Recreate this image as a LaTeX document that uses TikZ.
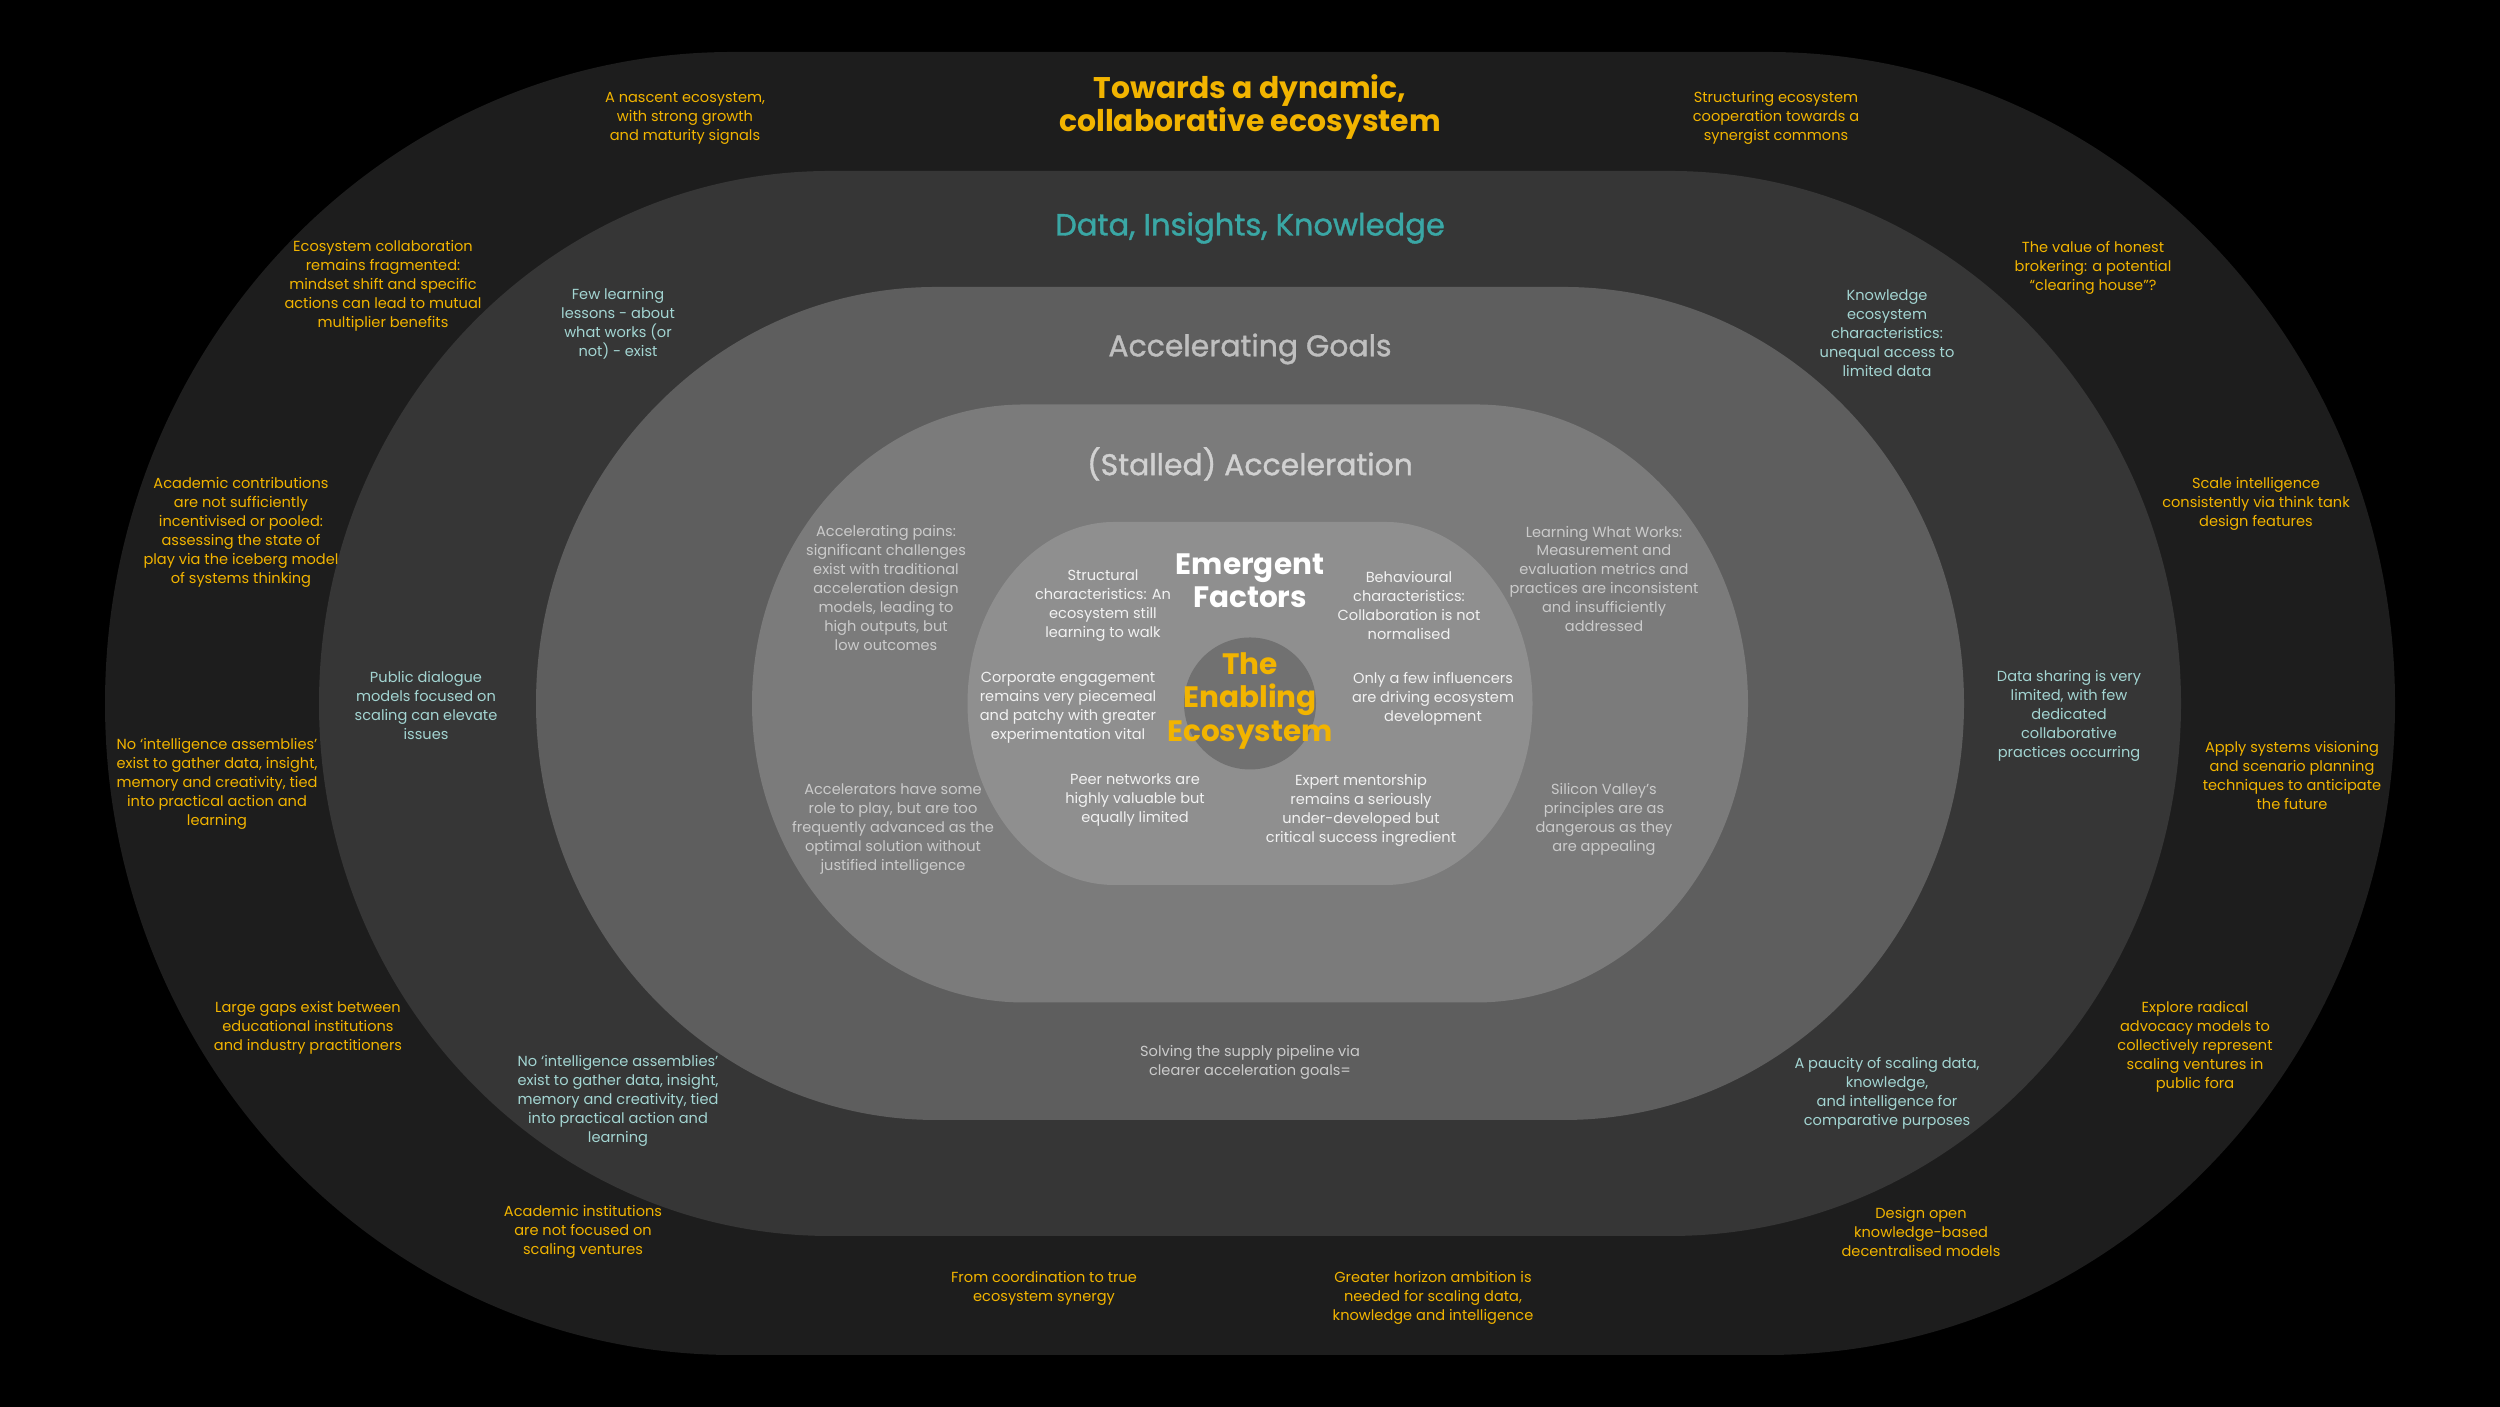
\documentclass[tikz,border=0pt]{standalone}
\usepackage{fontspec}
\setmainfont{Poppins}
\newfontfamily\mediumfont[FakeBold=1.2]{Poppins}

\definecolor{gold}{HTML}{F2B400}
\definecolor{teal}{HTML}{3AA7A5}
\definecolor{paleteal}{HTML}{A3D5D2}
\definecolor{mist}{HTML}{CBCBCB}
\definecolor{ringA}{HTML}{1D1D1D}
\definecolor{ringB}{HTML}{363636}
\definecolor{ringC}{HTML}{5E5E5E}
\definecolor{ringD}{HTML}{7B7B7B}
\definecolor{ringE}{HTML}{8F8F8F}
\definecolor{core}{HTML}{717171}

\begin{document}
\begin{tikzpicture}
% ---- canvas
\fill[black] (0,0) rectangle (25,14.07);
\useasboundingbox (0,0) rectangle (25,14.07);

% text styles
\tikzset{note/.style={align=center, inner sep=0pt, font=\fontsize{4.15}{5.4}\selectfont},
         gnote/.style={note, text=gold},
         tnote/.style={note, text=paleteal},
         snote/.style={note, text=mist},
         wnote/.style={note, text=white!95!black},
         head/.style={align=center, inner sep=0pt, font=\mediumfont\fontsize{8.5}{9}\selectfont},
         bighead/.style={align=center, inner sep=0pt, font=\bfseries\fontsize{8.4}{9.4}\selectfont}}
% \ring{half width}{half height}{corner x radius}{colour}
\newcommand{\ring}[4]{\fill[#4] (12.5-#1+#3,7.035+#2) -- (12.5+#1-#3,7.035+#2)
  arc[start angle=90, end angle=-90, x radius=#3, y radius=#2] -- (12.5-#1+#3,7.035-#2)
  arc[start angle=270, end angle=90, x radius=#3, y radius=#2] -- cycle;}

% ---- nested layers
\ring{11.45}{6.515}{6.28}{ringA}
\ring{9.31}{5.325}{5.11}{ringB}
\ring{7.14}{4.165}{4.00}{ringC}
\ring{4.98}{2.99}{2.72}{ringD}
\ring{2.825}{1.815}{1.47}{ringE}
\fill[core] (12.5,7.035) circle[radius=0.66];

% ===== headings
\node[bighead, text=gold, font=\bfseries\fontsize{8.5}{9.2}\selectfont] (towards) at (12.5,13.00) {Towards a dynamic,\\collaborative ecosystem};
\node[head, text=teal, font=\mediumfont\fontsize{8.7}{9}\selectfont] (data) at (12.5,11.79) {Data, Insights, Knowledge};
\node[head, text=black!25] (goals) at (12.5,10.58) {Accelerating Goals};
\node[head, text=black!18] (stalled) at (12.5,9.43) {(Stalled) Acceleration};
\node[bighead, text=white] (emergent) at (12.5,8.26) {Emergent\\Factors};
\node[bighead, text=gold] (enabling) at (12.5,7.06) {The\\Enabling\\Ecosystem};

% ===== outer layer
\node[gnote] (nascent) at (6.85,12.89) {A nascent ecosystem,\\with strong growth\\and maturity signals};
\node[gnote] (structuring) at (17.76,12.89) {Structuring ecosystem\\cooperation towards a\\synergist commons};
\node[gnote] (fragmented) at (3.83,11.21) {Ecosystem collaboration\\remains fragmented:\\mindset shift and specific\\actions can lead to mutual\\multiplier benefits};
\node[gnote] (brokering) at (20.93,11.39) {The value of honest\\brokering: a potential\\“clearing house”?};
\node[gnote] (academic) at (2.41,8.75) {Academic contributions\\are not sufficiently\\incentivised or pooled:\\assessing the state of\\play via the iceberg model\\of systems thinking};
\node[gnote] (scale) at (22.56,9.03) {Scale intelligence\\consistently via think tank\\design features};
\node[gnote] (assemblyA) at (2.17,6.23) {No ‘intelligence assemblies’\\exist to gather data, insight,\\memory and creativity, tied\\into practical action and\\learning};
\node[gnote] (visioning) at (22.92,6.31) {Apply systems visioning\\and scenario planning\\techniques to anticipate\\the future};
\node[gnote] (gaps) at (3.08,3.79) {Large gaps exist between\\educational institutions\\and industry practitioners};
\node[gnote] (advocacy) at (21.95,3.60) {Explore radical\\advocacy models to\\collectively represent\\scaling ventures in\\public fora};
\node[gnote] (institutions) at (5.83,1.75) {Academic institutions\\are not focused on\\scaling ventures};
\node[gnote] (openmodels) at (19.21,1.75) {Design open\\knowledge-based\\decentralised models};
\node[gnote] (synergy) at (10.44,1.19) {From coordination to true\\ecosystem synergy};
\node[gnote] (horizon) at (14.33,1.09) {Greater horizon ambition is\\needed for scaling data,\\knowledge and intelligence};

% ===== data layer
\node[tnote] (lessons) at (6.18,10.83) {Few learning\\lessons - about\\what works (or\\not) - exist};
\node[tnote] (access) at (18.87,10.74) {Knowledge\\ecosystem\\characteristics:\\unequal access to\\limited data};
\node[tnote] (dialogue) at (4.26,7.01) {Public dialogue\\models focused on\\scaling can elevate\\issues};
\node[tnote] (sharing) at (20.69,6.91) {Data sharing is very\\limited, with few\\dedicated\\collaborative\\practices occurring};
\node[tnote] (assemblyB) at (6.18,3.06) {No ‘intelligence assemblies’\\exist to gather data, insight,\\memory and creativity, tied\\into practical action and\\learning};
\node[tnote] (paucity) at (18.87,3.14) {A paucity of scaling data,\\knowledge,\\and intelligence for\\comparative purposes};

% ===== goals and acceleration layers
\node[snote] (supply) at (12.5,3.45) {Solving the supply pipeline via\\clearer acceleration goals=};
\node[snote] (pains) at (8.86,8.19) {Accelerating pains:\\significant challenges\\exist with traditional\\acceleration design\\models, leading to\\high outputs, but\\low outcomes};
\node[snote] (works) at (16.04,8.28) {Learning What Works:\\Measurement and\\evaluation metrics and\\practices are inconsistent\\and insufficiently\\addressed};
\node[snote] (accelerators) at (8.93,5.78) {Accelerators have some\\role to play, but are too\\frequently advanced as the\\optimal solution without\\justified intelligence};
\node[snote] (silicon) at (16.04,5.88) {Silicon Valley’s\\principles are as\\dangerous as they\\are appealing};

% ===== emergent factors
\node[wnote] (structural) at (11.03,8.01) {Structural\\characteristics: An\\ecosystem still\\learning to walk};
\node[wnote] (behavioural) at (14.09,8.01) {Behavioural\\characteristics:\\Collaboration is not\\normalised};
\node[wnote] (corporate) at (10.68,6.99) {Corporate engagement\\remains very piecemeal\\and patchy with greater\\experimentation vital};
\node[wnote] (influencers) at (14.33,7.08) {Only a few influencers\\are driving ecosystem\\development};
\node[wnote] (peer) at (11.35,6.07) {Peer networks are\\highly valuable but\\equally limited};
\node[wnote] (mentorship) at (13.61,5.97) {Expert mentorship\\remains a seriously\\under-developed but\\critical success ingredient};
\end{tikzpicture}
\end{document}
